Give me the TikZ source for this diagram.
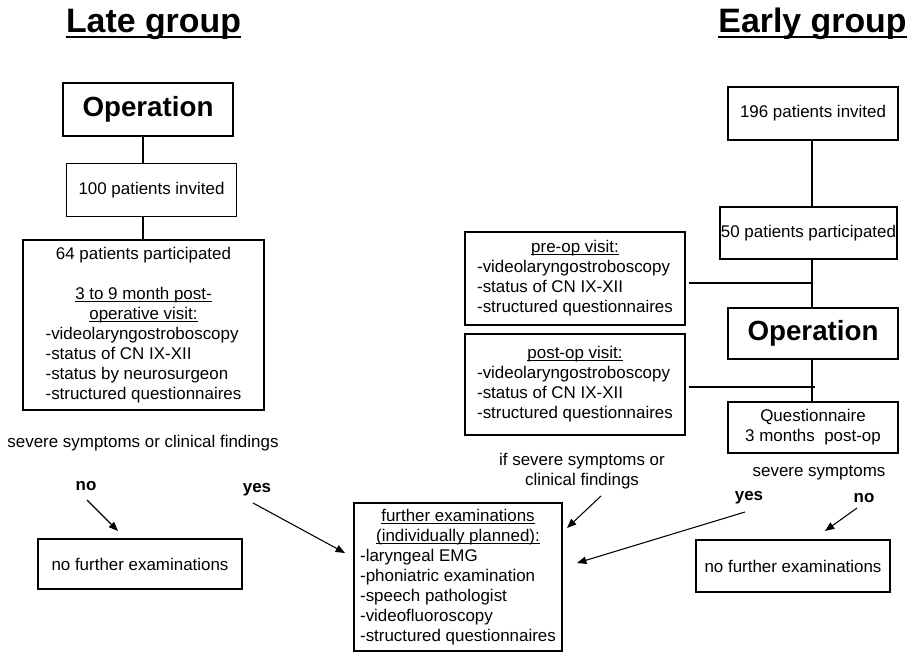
\documentclass[tikz,border=0pt]{standalone}
\usepackage{fontspec}
\setmainfont{Liberation Sans}
\usetikzlibrary{arrows.meta}
\newcommand\myul[1]{\underline{\smash{#1}}}
\newcommand\ctr[1]{\multicolumn{1}{@{}c@{}}{#1}}
\newcommand\px{*0.75pt}
\begin{document}
\begin{tikzpicture}[x=0.75pt,y=-0.75pt,
  every node/.style={inner sep=0pt, font=\fontsize{12.7}{15}\selectfont},
  box/.style={draw, line width=1pt, align=center},
  conn/.style={line width=0.8pt},
  arr/.style={line width=0.8pt, -{Triangle[length=7pt,width=5.5pt]}},
  titletxt/.style={font=\fontsize{25.4}{30}\selectfont\bfseries, anchor=base},
  titleline/.style={line width=1.6pt},
  opbox/.style={box, font=\fontsize{20.8}{25}\selectfont\bfseries},
  lbl/.style={font=\fontsize{12.7}{15}\selectfont\bfseries},
]
\useasboundingbox (0,0) rectangle (913,656);

% ---------- titles ----------
\node[titletxt] (late) at (153.5,33) {Late group};
\node[titletxt] (early) at (812.5,33) {Early group};
\draw[titleline] ([yshift=-3.3pt]late.base west) -- ([yshift=-3.3pt]late.base east);
\draw[titleline] ([yshift=-3.3pt]early.base west) -- ([yshift=-3.3pt]early.base east);

% ---------- late group ----------
\node[opbox, minimum width=170\px, minimum height=53\px] (opL) at (148,109.5) {Operation};
\node[box, minimum width=170\px, minimum height=53\px] (inv100) at (151.5,190) {100 patients invited};
\node[box, minimum width=241\px, minimum height=170\px] (p64) at (143.5,325) {%
\begin{tabular}{@{}l@{}}
\ctr{64 patients participated}\\
\\
\ctr{\myul{3 to 9 month post-}}\\
\ctr{\myul{operative visit:}}\\
-videolaryngostroboscopy\\
-status of CN IX-XII\\
-status by neurosurgeon\\
-structured questionnaires
\end{tabular}};
\coordinate (xL) at (143,0);
\draw[conn] (opL.south -| xL) -- (inv100.north -| xL);
\draw[conn] (inv100.south -| xL) -- (p64.north -| xL);

\node (sevL) at (143,443) {severe symptoms or clinical findings};
\node[lbl] (noL) at (86,486) {no};
\node[lbl] (yesL) at (257,490) {yes};
\node[box, minimum width=204\px, minimum height=50\px] (nofL) at (140,564) {no further examinations};

% ---------- centre ----------
\node[box, minimum width=208\px, minimum height=148\px] (further) at (458,577) {%
\begin{tabular}{@{}l@{}}
\ctr{\myul{further examinations}}\\
\ctr{\myul{(individually planned):}}\\
-laryngeal EMG\\
-phoniatric examination\\
-speech pathologist\\
-videofluoroscopy\\
-structured questionnaires
\end{tabular}};

% ---------- early group ----------
\node[box, minimum width=170\px, minimum height=53\px] (inv196) at (813,113.5) {196 patients invited};
\node[box, minimum width=177\px, minimum height=52\px] (p50) at (808.5,233) {50 patients participated};
\node[opbox, minimum width=170\px, minimum height=51\px] (opR) at (813,333.5) {Operation};
\node[box, minimum width=170\px, minimum height=51\px] (quest) at (813,427.5) {Questionnaire\\3 months\ \ post-op};
\node[box, minimum width=220\px, minimum height=93\px] (preop) at (575,278.5) {%
\begin{tabular}{@{}l@{}}
\ctr{\myul{pre-op visit:}}\\
-videolaryngostroboscopy\\
-status of CN IX-XII\\
-structured questionnaires
\end{tabular}};
\node[box, minimum width=220\px, minimum height=101\px] (postop) at (575,384.5) {%
\begin{tabular}{@{}l@{}}
\ctr{\myul{post-op visit:}}\\
-videolaryngostroboscopy\\
-status of CN IX-XII\\
-structured questionnaires
\end{tabular}};
\coordinate (xR) at (812,0);
\draw[conn] (inv196.south -| xR) -- (p50.north -| xR);
\draw[conn] (p50.south -| xR) -- (opR.north -| xR);
\draw[conn] (opR.south -| xR) -- (quest.north -| xR);
\coordinate (j1) at (812,283);
\coordinate (j2) at (815,387);
\draw[conn, shorten <=2.25pt] (j1 -| preop.east) -- (j1);
\draw[conn, shorten <=2.25pt] (j2 -| postop.east) -- (j2);

\node[align=center] (ifsev) at (582,471.5) {if severe symptoms or\\clinical findings};
\node (sevR) at (819,473) {severe symptoms};
\node[lbl] (yesR) at (749,498) {yes};
\node[lbl] (noR) at (864,498) {no};
\node[box, minimum width=194\px, minimum height=52\px] (nofR) at (793,566) {no further examinations};

% ---------- arrows ----------
\coordinate (aNoLs) at (87,500);   \coordinate (aNoLe) at (118,531);
\coordinate (aYesLs) at (253,503); \coordinate (aYesLe) at (345,553);
\coordinate (aIfs) at (601,496);   \coordinate (aIfe) at (567,528);
\coordinate (aYesRs) at (745,512); \coordinate (aYesRe) at (577,563);
\coordinate (aNoRs) at (857,508);  \coordinate (aNoRe) at (825,531);
\draw[arr] (aNoLs) -- (aNoLe);
\draw[arr] (aYesLs) -- (aYesLe);
\draw[arr] (aIfs) -- (aIfe);
\draw[arr] (aYesRs) -- (aYesRe);
\draw[arr] (aNoRs) -- (aNoRe);
\end{tikzpicture}
\end{document}
